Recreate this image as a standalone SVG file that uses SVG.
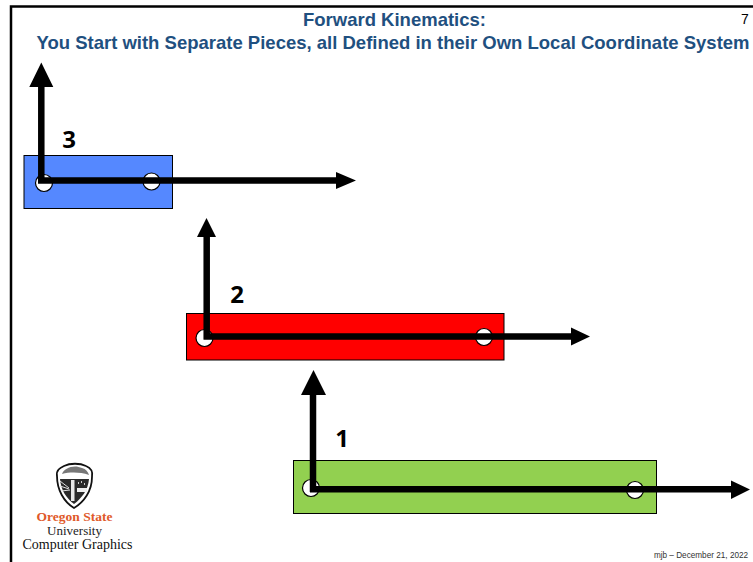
<svg xmlns="http://www.w3.org/2000/svg" width="753" height="562" viewBox="0 0 753 562">
<style>
.t{font-family:"Liberation Sans",Arial,sans-serif;font-weight:700;font-size:18.500px;fill:#1f5080;text-anchor:middle}
.n{font-family:"Open Sans","Noto Sans",sans-serif;font-weight:700;font-size:24px;fill:#000;text-anchor:middle}
.r{stroke:#000;stroke-width:1}
.h{fill:#fff;stroke:#000;stroke-width:1.2}
.l{fill:none;stroke:#000;stroke-width:6.500}
.s{font-family:"Liberation Serif","Times New Roman",serif;text-anchor:middle}
</style>
<rect width="753" height="562" fill="#fff"/>
<g id="frame"><path d="M11 562V6.500H753" fill="none" stroke="#000" stroke-width="2.500"/></g>
<g id="title">
<text class="t" x="394.500" y="26">Forward Kinematics:</text>
<text class="t" x="393" y="49">You Start with Separate Pieces, all Defined in their Own Local Coordinate System</text>
<text x="745" y="24" font-family="'Liberation Sans',Arial,sans-serif" font-size="14" text-anchor="middle">7</text>
</g>
<g id="piece3"><rect class="r" x="24" y="155.500" width="148.500" height="53" fill="#5588ff"/><circle class="h" cx="44" cy="183" r="8.500"/><circle class="h" cx="151.500" cy="181.500" r="8.500"/><text class="n" x="69" y="148">3</text></g>
<g id="piece2"><rect class="r" x="186.500" y="313.500" width="317.500" height="46.500" fill="#ff0000"/><circle class="h" cx="204.500" cy="338" r="8.500"/><circle class="h" cx="484" cy="337" r="8.500"/><text class="n" x="237" y="303">2</text></g>
<g id="piece1"><rect class="r" x="293.500" y="460.500" width="363" height="53" fill="#92d050"/><circle class="h" cx="311" cy="488" r="8.500"/><circle class="h" cx="635" cy="490" r="8.500"/><text class="n" x="342" y="447">1</text></g>
<g id="connectors">
<path class="l" d="M41.300 183V85M38 180.500H338" /><path d="M41.300 62.500L53.300 87H29.300ZM356 180.500L336 172V189Z"/>
<path class="l" d="M206.700 339V235M203.500 336.500H573"/><path d="M206.500 218L216 237H197ZM590 336.500L571 327.500V345.500Z"/>
<path class="l" d="M313 492V393M310 489.300H733"/><path d="M313.500 370L326 395H301ZM750 489.500L731 480.500V499Z"/>
</g>
<g id="logo">
<path d="M57 476C56 470 60 468 64 466C70 463 80 463 86 466C91 468 93 472 92 477C92 491 84 502 74 508C64 502 57 490 57 476Z" fill="#fff" stroke="#111" stroke-width="1.800"/>
<path d="M60 479H89C88 490 82 498 74 504C66 498 61 490 60 479Z" fill="#2a2a2a"/>
<path d="M62 474C64 468 74 464 82 468C86 469 88 472 89 475C80 472 70 472 62 474Z" fill="#777"/>
<path d="M60 481L69 488M60 486L69 489M61 491L70 490" stroke="#ddd" stroke-width="1"/>
<rect x="71" y="480" width="3.500" height="21" fill="#e8e8e8"/>
<rect x="77" y="488" width="10" height="4" fill="#eee"/>
<path d="M78 483h1M81 482h1M84 484h1" stroke="#fff" stroke-width="1.500"/>
<text class="s" x="74.500" y="521" font-size="13.500" font-weight="700" fill="#e0592a">Oregon State</text>
<text class="s" x="74.500" y="535" font-size="13" fill="#222">University</text>
<text class="s" x="77.500" y="549" font-size="14" fill="#111">Computer Graphics</text>
</g>
<g id="footer"><text x="701" y="558" font-family="'Liberation Sans',Arial,sans-serif" font-size="8.200" fill="#333" text-anchor="middle">mjb – December 21, 2022</text></g>
</svg>
